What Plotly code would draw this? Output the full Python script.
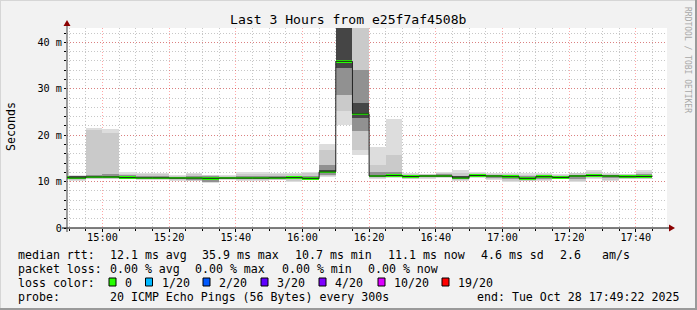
import plotly.graph_objects as go

# ---------------- data ----------------
day = "2025-10-28"
x_start = "2025-10-28 14:49:22"
x_end = "2025-10-28 17:49:22"
step_ms = 300000  # 300 s probe step

bin_start = ["14:45", "14:50", "14:55", "15:00", "15:05", "15:10", "15:15", "15:20",
             "15:25", "15:30", "15:35", "15:40", "15:45", "15:50", "15:55", "16:00",
             "16:05", "16:10", "16:15", "16:20", "16:25", "16:30", "16:35", "16:40",
             "16:45", "16:50", "16:55", "17:00", "17:05", "17:10", "17:15", "17:20",
             "17:25", "17:30", "17:35", "17:40"]

# sorted ping rtts (ms) per bin: ping #1, #2, #5, #9, median, #12, #16, #19, #20
ping01 = [10.4, 10.2, 10.5, 10.5, 10.5, 10.35, 10.35, 10.2, 10.05, 9.8, 10.4, 10.1,
          10.2, 10.3, 10.0, 10.3, 11.0, 22.2, 15.7, 10.5, 10.7, 10.5, 10.6, 10.8,
          10.2, 10.8, 10.4, 9.9, 10.1, 10.2, 10.5, 9.9, 10.6, 10.2, 10.5, 10.5]
ping02 = [10.5, 10.35, 10.6, 10.6, 10.6, 10.45, 10.45, 10.35, 10.2, 9.85, 10.5, 10.25,
          10.3, 10.4, 10.2, 10.4, 11.2, 25.1, 16.8, 10.7, 10.9, 10.6, 10.7, 10.9,
          10.3, 10.9, 10.5, 10.1, 10.2, 10.35, 10.6, 10.1, 10.7, 10.35, 10.6, 10.6]
ping05 = [10.6, 10.5, 10.8, 10.8, 10.7, 10.6, 10.6, 10.5, 10.4, 9.95, 10.6, 10.5,
          10.5, 10.55, 10.5, 10.5, 11.5, 28.7, 20.8, 10.9, 11.1, 10.8, 10.9, 11.0,
          10.5, 11.1, 10.8, 10.5, 10.4, 10.6, 10.75, 10.6, 10.9, 10.7, 10.8, 10.8]
ping09 = [10.8, 10.7, 10.9, 10.9, 10.8, 10.7, 10.7, 10.65, 10.6, 10.3, 10.7, 10.65,
          10.65, 10.7, 10.75, 10.6, 11.9, 34.4, 23.6, 11.1, 11.25, 11.0, 11.1, 11.1,
          10.7, 11.2, 11.0, 10.9, 10.6, 10.9, 10.85, 11.0, 11.2, 11.0, 10.95, 11.0]
median = [10.9, 10.8, 11.0, 11.0, 10.85, 10.8, 10.8, 10.75, 10.75, 10.7, 10.75, 10.75,
          10.75, 10.8, 10.85, 10.7, 12.1, 35.9, 24.6, 11.2, 11.3, 11.1, 11.2, 11.2,
          10.8, 11.3, 11.2, 11.05, 10.7, 11.05, 10.9, 11.2, 11.3, 11.2, 11.05, 11.1]
ping12 = [11.0, 11.1, 11.1, 11.2, 11.0, 10.9, 10.9, 10.85, 10.9, 10.85, 10.85, 10.9,
          10.9, 10.95, 11.0, 10.8, 12.4, 44.0, 26.9, 11.4, 11.5, 11.2, 11.3, 11.35,
          11.15, 11.4, 11.3, 11.2, 10.85, 11.2, 11.0, 11.35, 11.45, 11.35, 11.2, 11.25]
ping16 = [11.3, 11.2, 11.5, 11.7, 11.4, 11.2, 11.2, 11.0, 11.2, 11.1, 11.05, 11.3,
          11.3, 11.3, 11.3, 11.2, 13.5, 45.0, 34.0, 12.0, 12.1, 11.4, 11.45, 11.6,
          11.3, 11.6, 11.5, 11.4, 11.1, 11.4, 11.25, 11.5, 11.7, 11.5, 11.4, 11.6]
ping19 = [12.5, 11.3, 21.2, 20.4, 11.7, 11.6, 11.6, 11.2, 11.6, 11.35, 11.3, 11.7,
          11.7, 11.7, 11.7, 11.8, 16.8, 46.0, 45.0, 13.6, 15.7, 11.6, 11.55, 11.8,
          11.9, 11.8, 11.7, 11.7, 11.5, 11.6, 11.45, 11.8, 12.1, 11.7, 11.6, 12.1]
ping20 = [16.1, 11.4, 21.5, 21.3, 12.1, 11.8, 11.9, 11.35, 11.85, 11.5, 11.4, 12.05,
          12.0, 11.9, 11.9, 12.1, 18.1, 47.0, 46.0, 17.5, 23.5, 11.9, 11.7, 12.0,
          12.4, 12.0, 11.8, 11.9, 11.8, 11.8, 11.6, 11.9, 12.4, 11.8, 11.7, 12.4]

y_max = 43.08
y_tickvals = [0, 10, 20, 30, 40]
y_ticktext = ["0", "10 m", "20 m", "30 m", "40 m"]

legend_rtt = [("median rtt:", 16), ("12.1 ms avg", 107.5), ("35.9 ms max", 200),
              ("10.7 ms min", 293), ("11.1 ms now", 386), ("4.6 ms sd", 479),
              ("2.6", 558), ("am/s", 600)]
legend_loss = [("packet loss:", 16), ("0.00 % avg", 107.5), ("0.00 % max", 193),
               ("0.00 % min", 280), ("0.00 % now", 366)]
loss_labels = ["0", "1/20", "2/20", "3/20", "4/20", "10/20", "19/20"]
loss_colors = ["#26ff00", "#00b8ff", "#0059ff", "#5e00ff", "#7e00ff", "#dd00ff", "#ff0000"]
loss_box_x = [109, 145.5, 203, 261, 319, 378, 442]
probe_text = "20 ICMP Echo Pings (56 Bytes) every 300s"
end_text = "end: Tue Oct 28 17:49:22 2025"
title_text = "Last 3 Hours from e25f7af4508b"

# ---------------- geometry helpers ----------------
W, H = 697, 310
PL, PR, PT, PB = 67, 667, 28, 228   # plot area in pixels


def px(xp):
    return (xp - PL) / (PR - PL)


def py(yp):
    return (PB - yp) / (PB - PT)


MONO = "DejaVu Sans Mono"
xs = [f"{day} {t}:00" for t in bin_start]

fig = go.Figure()

# smoke bands (outer -> inner)
bands = [(ping01, ping20, "#dddddd"), (ping02, ping19, "#cacaca"),
         (ping05, ping16, "#919191"), (ping09, ping12, "#454545")]
for lo, hi, col in bands:
    fig.add_trace(go.Bar(x=xs, base=lo, y=[h - l for l, h in zip(lo, hi)],
                         width=step_ms, offset=0, marker_color=col,
                         marker_line_width=0, hoverinfo="skip", showlegend=False))

# median step line
last_end = "2025-10-28 17:45:00"
fig.add_trace(go.Scatter(x=xs + [last_end], y=median + [median[-1]], mode="lines",
                         line=dict(color="#202020", width=1, shape="hv"),
                         hoverinfo="skip", showlegend=False))
# median (loss colour) band
G = 0.55
fig.add_trace(go.Bar(x=xs, base=[m - G / 2 for m in median], y=[G] * len(median),
                     width=step_ms, offset=0, marker_color=loss_colors[0],
                     marker_line_width=0, hoverinfo="skip", showlegend=False))

major_grid = "rgba(255,0,0,0.35)"
minor_grid = "rgba(130,130,130,0.45)"
dash = "1px,2px"

fig.update_layout(
    width=W, height=H,
    margin=dict(l=PL, r=W - PR, t=PT, b=H - PB, pad=0),
    paper_bgcolor="#f2f2f2", plot_bgcolor="#ffffff",
    barmode="overlay", bargap=0, showlegend=False,
    font=dict(family=MONO, color="#000000"),
    xaxis=dict(type="date", range=[x_start, x_end], tick0=f"{day} 15:00:00",
               dtick=1200000, tickformat="%H:%M",
               showgrid=True, gridcolor=major_grid, griddash=dash, gridwidth=1,
               ticks="outside", ticklen=3, tickcolor="#000000",
               ticklabelstandoff=-3,
               tickfont=dict(family=MONO, size=10.2, color="#000000"),
               minor=dict(tick0=f"{day} 15:00:00", dtick=300000, showgrid=True,
                          gridcolor=minor_grid, griddash=dash, ticks="outside",
                          ticklen=2, tickcolor="#000000"),
               showline=False, zeroline=False, fixedrange=True),
    yaxis=dict(range=[0, y_max], tickvals=y_tickvals, ticktext=y_ticktext,
               showgrid=True, gridcolor=major_grid, griddash=dash, gridwidth=1,
               ticks="outside", ticklen=2, tickcolor="#000000",
               tickfont=dict(family=MONO, size=10.2, color="#000000"),
               minor=dict(dtick=2, showgrid=True, gridcolor=minor_grid,
                          griddash=dash, ticks="outside", ticklen=2,
                          tickcolor="#000000"),
               showline=False, zeroline=False, fixedrange=True),
)

shapes = []
# axes with arrows
shapes.append(dict(type="line", xref="paper", yref="paper", x0=px(62), x1=px(670),
                   y0=py(228), y1=py(228), line=dict(color="#000000", width=1)))
shapes.append(dict(type="path", xref="paper", yref="paper", fillcolor="#8b0000",
                   line=dict(width=0),
                   path=f"M {px(669)} {py(224.5)} L {px(675)} {py(228)} L {px(669)} {py(231.5)} Z"))
shapes.append(dict(type="line", xref="paper", yref="paper", x0=px(67), x1=px(67),
                   y0=py(232), y1=py(25), line=dict(color="#404040", width=1)))
shapes.append(dict(type="path", xref="paper", yref="paper", fillcolor="#8b0000",
                   line=dict(width=0),
                   path=f"M {px(63.5)} {py(26)} L {px(67)} {py(20)} L {px(70.5)} {py(26)} Z"))
# frame
shapes.append(dict(type="line", xref="paper", yref="paper", x0=px(0), x1=px(697),
                   y0=py(0.5), y1=py(0.5), line=dict(color="#d6d6d6", width=1)))
shapes.append(dict(type="line", xref="paper", yref="paper", x0=px(0.5), x1=px(0.5),
                   y0=py(0), y1=py(310), line=dict(color="#d6d6d6", width=1)))
shapes.append(dict(type="line", xref="paper", yref="paper", x0=px(0), x1=px(697),
                   y0=py(309), y1=py(309), line=dict(color="#9a9a9a", width=2)))
shapes.append(dict(type="line", xref="paper", yref="paper", x0=px(696), x1=px(696),
                   y0=py(0), y1=py(310), line=dict(color="#9a9a9a", width=2)))
# loss colour boxes
for bx, col in zip(loss_box_x, loss_colors):
    shapes.append(dict(type="rect", xref="paper", yref="paper", x0=px(bx), x1=px(bx + 7),
                       y0=py(286), y1=py(278), fillcolor=col,
                       line=dict(color="#000000", width=1)))

ann = []


def text(t, x, y, size=11.6, anchor="left", color="#000000", angle=0):
    ann.append(dict(text=t, x=px(x), y=py(y), xref="paper", yref="paper",
                    xanchor=anchor, yanchor="middle", showarrow=False,
                    textangle=angle, font=dict(family=MONO, size=size, color=color)))


text(title_text, 348, 19, size=13.1, anchor="center")
text("Seconds", 11, 127, size=11.6, anchor="center", angle=-90)
text("RRDTOOL / TOBI OETIKER", 688, 60, size=8, anchor="center", color="#a8a8a8", angle=90)
for t, x in legend_rtt:
    text(t, x, 255)
for t, x in legend_loss:
    text(t, x, 269)
text("loss color:", 16, 282.5)
for bx, lab in zip(loss_box_x, loss_labels):
    text(lab, bx + 14, 282.5)
text("probe:", 16, 296.5)
text(probe_text, 107.5, 296.5)
text(end_text, 681, 296.5, anchor="right")

fig.update_layout(shapes=shapes, annotations=ann)
fig.write_html("out.html")
